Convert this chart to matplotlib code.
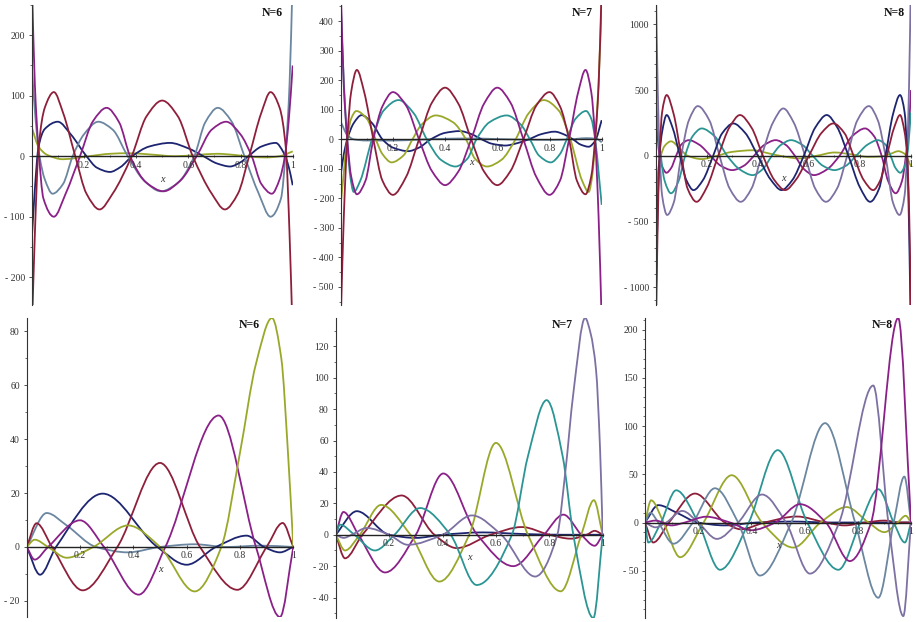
import numpy as np
import matplotlib
matplotlib.use("Agg")
import matplotlib.pyplot as plt
from matplotlib.path import Path
from matplotlib.patches import PathPatch
from matplotlib.ticker import MultipleLocator, FixedLocator, FuncFormatter

plt.rcParams['font.family'] = ['Liberation Serif', 'DejaVu Serif']

# ---------------- colours (Maple default palette, as seen) ----------------
MAROON = "#8e1f3b"
PURPLE = "#8a2088"
NAVY = "#1d2570"
OLIVE = "#9aa82a"
TEAL = "#2b9594"
SLATE = "#6b86a0"
LAVENDER = "#7d70a2"

# ---------------- curve knots: (x, y) ----------------
# top row, N=6
top6_red = [(0, -300), (0.012, -130), (0.026, 12), (0.05, 80), (0.085, 106), (0.12, 72),
            (0.167, 0), (0.21, -62), (0.26, -88), (0.31, -62), (0.383, 0), (0.44, 66),
            (0.5, 92), (0.56, 66), (0.617, 0), (0.69, -62), (0.74, -88), (0.79, -62),
            (0.833, 0), (0.88, 72), (0.915, 106), (0.95, 80), (0.974, 12), (0.988, -130), (1, -300)]
top6_purple = [(0, 300), (0.012, 120), (0.026, 12), (0.045, -70), (0.085, -100), (0.13, -62),
               (0.185, 0), (0.235, 58), (0.287, 80), (0.335, 56), (0.377, 0), (0.44, -44),
               (0.505, -58), (0.57, -40), (0.632, 0), (0.69, 44), (0.745, 57), (0.8, 36),
               (0.843, 0), (0.88, -46), (0.92, -62), (0.95, -38), (0.97, 0), (0.985, 60), (1, 150)]
top6_slate = [(0, 150), (0.015, 60), (0.03, 0), (0.05, -38), (0.08, -62), (0.12, -46),
              (0.157, 0), (0.2, 36), (0.255, 57), (0.31, 44), (0.368, 0), (0.43, -40),
              (0.495, -58), (0.56, -44), (0.623, 0), (0.665, 56), (0.713, 80), (0.765, 58),
              (0.815, 0), (0.87, -62), (0.915, -100), (0.955, -70), (0.974, 12), (0.988, 120), (1, 300)]
top6_navy = [(0, -140), (0.012, -55), (0.026, 15), (0.05, 45), (0.1, 57), (0.15, 36), (0.21, 0),
             (0.25, -19), (0.3, -26), (0.34, -18), (0.385, 0), (0.45, 16), (0.53, 22), (0.6, 13),
             (0.658, 0), (0.71, -12), (0.76, -17), (0.8, -10), (0.83, 0), (0.88, 16), (0.935, 22),
             (0.965, 6), (0.985, -18), (1, -48)]
top6_olive = [(0, 48), (0.026, 16), (0.06, 2), (0.12, -5), (0.17, -3), (0.22, 0), (0.3, 4),
              (0.37, 5), (0.45, 3), (0.55, 0), (0.63, 2), (0.71, 4), (0.78, 2), (0.84, -1),
              (0.9, -2), (0.95, 0), (1, 8)]

# top row, N=7
top7_red = [(0, -620), (0.012, -260), (0.025, 0), (0.04, 160), (0.062, 235), (0.09, 160),
            (0.125, 0), (0.16, -140), (0.2, -188), (0.25, -128), (0.3, 0), (0.35, 125),
            (0.4, 175), (0.45, 122), (0.5, 0), (0.55, -110), (0.6, -155), (0.65, -108), (0.7, 0),
            (0.75, 115), (0.8, 160), (0.84, 112), (0.875, 0), (0.905, -140), (0.938, -186),
            (0.96, -125), (0.975, 0), (0.988, 180), (1, 520)]
top7_purple = [(0, 520), (0.012, 180), (0.025, 0), (0.04, -125), (0.062, -186), (0.095, -140),
               (0.125, 0), (0.16, 112), (0.2, 160), (0.25, 115), (0.3, 0), (0.35, -108),
               (0.4, -155), (0.45, -110), (0.5, 0), (0.55, 122), (0.6, 175), (0.65, 125), (0.7, 0),
               (0.75, -128), (0.8, -188), (0.84, -140), (0.875, 0), (0.91, 160), (0.938, 235),
               (0.96, 160), (0.975, 0), (0.988, -260), (1, -620)]
top7_teal = [(0, 470), (0.012, 190), (0.025, 0), (0.035, -115), (0.05, -178), (0.075, -140),
             (0.12, 0), (0.165, 98), (0.222, 133), (0.28, 88), (0.33, 0), (0.385, -70),
             (0.44, -92), (0.485, -66), (0.52, 0), (0.57, 58), (0.636, 81), (0.69, 50),
             (0.725, 0), (0.76, -55), (0.805, -78), (0.84, -50), (0.866, 0), (0.9, 70),
             (0.94, 96), (0.96, 70), (0.975, 0), (0.99, -130), (1, -222)]
top7_olive = [(0, -222), (0.01, -130), (0.025, 0), (0.04, 70), (0.06, 96), (0.1, 70), (0.134, 0),
              (0.16, -50), (0.195, -78), (0.24, -55), (0.275, 0), (0.31, 50), (0.364, 81),
              (0.43, 58), (0.48, 0), (0.515, -66), (0.56, -92), (0.615, -70), (0.67, 0),
              (0.72, 88), (0.778, 133), (0.835, 98), (0.88, 0), (0.925, -140), (0.95, -178),
              (0.965, -115), (0.975, 0), (0.988, 190), (1, 470)]
top7_navy = [(0, -120), (0.012, -50), (0.025, 0), (0.05, 55), (0.08, 82), (0.12, 55), (0.16, 0),
             (0.2, -28), (0.259, -40), (0.3, -28), (0.345, 0), (0.4, 22), (0.457, 28), (0.5, 18),
             (0.54, 0), (0.58, -15), (0.63, -21), (0.68, -12), (0.72, 0), (0.77, 18), (0.82, 26),
             (0.86, 15), (0.89, 0), (0.92, -18), (0.95, -25), (0.975, -5), (1, 65)]
top7_slate = [(0, 60), (0.025, 15), (0.05, 0), (0.1, -4), (0.2, -4), (0.3, -1), (0.4, 2),
              (0.5, 3), (0.6, 1), (0.7, -1), (0.8, -2), (0.88, 0), (0.94, 4), (0.98, 2), (1, -10)]

# top row, N=8
top8_lav = [(0, 1400), (0.008, 500), (0.016, 0), (0.025, -300), (0.045, -450), (0.07, -360),
            (0.1, 0), (0.13, 270), (0.165, 378), (0.21, 270), (0.25, 0), (0.29, -250),
            (0.333, -350), (0.375, -250), (0.415, 0), (0.46, 255), (0.5, 360), (0.54, 255),
            (0.585, 0), (0.625, -250), (0.667, -350), (0.71, -250), (0.75, 0), (0.79, 270),
            (0.835, 378), (0.87, 270), (0.9, 0), (0.93, -360), (0.955, -450), (0.975, -300),
            (0.984, 0), (0.992, 500), (1, 1400)]
top8_red = [(0, -1500), (0.007, -600), (0.015, 0), (0.025, 330), (0.043, 462), (0.07, 320),
            (0.1, 0), (0.125, -250), (0.16, -350), (0.2, -240), (0.245, 0), (0.29, 220),
            (0.33, 310), (0.375, 215), (0.42, 0), (0.465, -185), (0.507, -261), (0.55, -180),
            (0.6, 0), (0.65, 175), (0.696, 246), (0.74, 170), (0.775, 0), (0.815, -185),
            (0.852, -261), (0.88, -185), (0.905, 0), (0.935, 220), (0.957, 310), (0.975, 180),
            (0.985, 0), (0.993, -450), (1, -1200)]
top8_navy = [(0, -1200), (0.007, -450), (0.015, 0), (0.025, 180), (0.043, 310), (0.065, 220),
             (0.095, 0), (0.12, -185), (0.148, -261), (0.185, -185), (0.225, 0), (0.26, 170),
             (0.304, 246), (0.35, 175), (0.4, 0), (0.45, -180), (0.493, -261), (0.535, -185),
             (0.58, 0), (0.625, 215), (0.67, 310), (0.71, 220), (0.755, 0), (0.8, -240),
             (0.84, -350), (0.875, -250), (0.9, 0), (0.93, 320), (0.957, 462), (0.975, 330),
             (0.985, 0), (0.993, -600), (1, -1500)]
top8_teal = [(0, 500), (0.009, 200), (0.02, 0), (0.035, -190), (0.06, -285), (0.09, -190),
             (0.115, 0), (0.145, 150), (0.18, 208), (0.23, 150), (0.28, 0), (0.33, -105),
             (0.38, -147), (0.42, -100), (0.455, 0), (0.49, 82), (0.53, 119), (0.575, 82),
             (0.615, 0), (0.655, -76), (0.7, -109), (0.745, -76), (0.785, 0), (0.83, 85),
             (0.87, 119), (0.9, 85), (0.92, 0), (0.94, -95), (0.958, -129), (0.975, -80),
             (0.985, 0), (1, 330)]
top8_purple = [(0, 330), (0.015, 0), (0.025, -80), (0.042, -129), (0.06, -95), (0.08, 0),
               (0.1, 85), (0.13, 119), (0.17, 85), (0.215, 0), (0.255, -76), (0.3, -109),
               (0.345, -76), (0.385, 0), (0.425, 82), (0.47, 119), (0.51, 82), (0.545, 0),
               (0.58, -100), (0.62, -147), (0.67, -105), (0.72, 0), (0.77, 150), (0.82, 208),
               (0.855, 150), (0.885, 0), (0.91, -190), (0.94, -285), (0.965, -190), (0.98, 0),
               (0.991, 200), (1, 500)]
top8_olive = [(0, -300), (0.01, -100), (0.02, 0), (0.035, 75), (0.06, 110), (0.09, 65),
              (0.125, 0), (0.18, -25), (0.24, 0), (0.3, 30), (0.38, 42), (0.45, 15), (0.5, -5),
              (0.56, -20), (0.63, 0), (0.7, 25), (0.77, 10), (0.83, -8), (0.88, -5), (0.92, 15),
              (0.95, 35), (0.975, 15), (1, -80)]

# bottom row, N=6
bot6_olive = [(0, 0), (0.03, 2.7), (0.08, 0), (0.15, -4), (0.25, 0), (0.38, 8), (0.5, 0),
              (0.63, -16.5), (0.73, 0), (0.8, 35), (0.86, 68), (0.92, 85), (0.955, 70),
              (0.98, 35), (1, 0)]
bot6_purple = [(0, 0), (0.03, -4.7), (0.08, 0), (0.2, 9.9), (0.29, 0), (0.42, -17.7), (0.52, 0),
               (0.72, 48.8), (0.86, 0), (0.95, -26), (1, 0)]
bot6_maroon = [(0, 0), (0.037, 8.8), (0.095, 0), (0.21, -16.1), (0.34, 0), (0.5, 31.2),
               (0.65, 0), (0.79, -15.9), (0.9, 0), (0.96, 8.9), (1, 0)]
bot6_navy = [(0, 0), (0.05, -10.3), (0.11, 0), (0.285, 19.8), (0.49, 0), (0.6, -6.6),
             (0.71, 0), (0.825, 4.2), (0.89, 0), (0.95, -2), (1, 0)]
bot6_slate = [(0, 0), (0.075, 12.6), (0.15, 8), (0.26, 0), (0.38, -2), (0.5, 0), (0.63, 1),
              (0.75, 0), (0.88, 0.5), (1, 0)]

# bottom row, N=7
bot7_lav = [(0, 0), (0.03, -2), (0.06, 0), (0.116, 4.3), (0.2, 0), (0.27, -6.4), (0.4, 0),
            (0.51, 12.3), (0.62, 0), (0.747, -26.6), (0.83, 0), (0.86, 40), (0.89, 90),
            (0.934, 138), (0.955, 128), (0.975, 105), (0.99, 55), (1, 0)]
bot7_teal = [(0, 0), (0.016, 6.4), (0.07, 0), (0.147, -10), (0.22, 0), (0.316, 17), (0.43, 0),
             (0.528, -32), (0.66, 0), (0.72, 50), (0.79, 85.7), (0.85, 50), (0.89, 0),
             (0.965, -53), (1, 0)]
bot7_olive = [(0, 0), (0.035, -10), (0.09, 0), (0.17, 19), (0.28, 0), (0.388, -29.8), (0.5, 0),
              (0.6, 58.5), (0.72, 0), (0.843, -36), (0.92, 0), (0.967, 22), (1, 0)]
bot7_purple = [(0, 0), (0.029, 14.5), (0.085, 0), (0.185, -24), (0.3, 0), (0.403, 39), (0.53, 0),
               (0.665, -20), (0.78, 0), (0.853, 12.8), (0.92, 0), (0.97, -7), (1, 0)]
bot7_maroon = [(0, 0), (0.035, -15), (0.1, 0), (0.247, 25), (0.37, 0), (0.453, -8.5), (0.58, 0),
               (0.697, 4.9), (0.8, 0), (0.88, -2.5), (0.94, 0), (0.97, 2.5), (1, 0)]
bot7_navy = [(0, 0), (0.079, 15), (0.2, 0), (0.3, -2), (0.4, 0), (0.55, 1.5), (0.7, 0.5),
             (0.85, 0), (1, 0)]

# bottom row, N=8
bot8_navy = [(0, 0), (0.05, 18), (0.12, 10), (0.2, 0), (0.3, -3), (0.42, 0), (0.55, 1),
             (0.7, 0), (1, 0)]
bot8_maroon = [(0, 0), (0.031, -20.7), (0.09, 0), (0.188, 30), (0.3, 0), (0.36, -7), (0.45, 0),
               (0.57, 6.2), (0.68, 0), (0.75, -3), (0.83, 0), (0.9, 2), (0.96, 0), (1, 0)]
bot8_olive = [(0, 0), (0.023, 23), (0.07, 0), (0.132, -36), (0.22, 0), (0.326, 49), (0.44, 0),
              (0.558, -26), (0.66, 0), (0.758, 16), (0.84, 0), (0.9, -10), (0.95, 0),
              (0.98, 7), (1, 0)]
bot8_teal = [(0, 0), (0.0125, -20.7), (0.06, 0), (0.117, 33.4), (0.2, 0), (0.282, -49),
             (0.39, 0), (0.499, 75), (0.61, 0), (0.727, -49), (0.81, 0), (0.877, 34.5),
             (0.935, 0), (0.977, -20.7), (1, 0)]
bot8_slate = [(0, 0), (0.02, 10), (0.05, 0), (0.107, -22), (0.18, 0), (0.263, 35.5), (0.35, 0),
              (0.432, -55), (0.55, 0), (0.677, 103), (0.79, 0), (0.877, -78), (0.935, 0),
              (0.975, 47.6), (1, 0)]
bot8_lav = [(0, 0), (0.04, -5), (0.08, 0), (0.14, 12), (0.2, 0), (0.27, -17), (0.35, 0),
            (0.44, 29), (0.53, 0), (0.62, -53), (0.73, 0), (0.858, 142), (0.915, 0),
            (0.971, -97), (1, 0)]
bot8_magenta = [(0, 0), (0.04, 2), (0.1, -3), (0.15, 0), (0.23, 6), (0.32, 0), (0.4, -8),
                (0.49, 0), (0.583, 19), (0.68, 0), (0.77, -40), (0.85, 0), (0.952, 212), (1, 0)]

# panel labels, y-ranges and y ticks
labels = ["N=6", "N=7", "N=8", "N=6", "N=7", "N=8"]
ylims = [(-246, 250), (-561, 455), (-1135, 1147), (-26, 85), (-53, 138), (-99, 212)]
ymajor = [100, 100, 500, 20, 20, 50]
yminor = [50, 50, 100, 10, 10, 10]

# panel boxes in pixels: left, right, top, bottom
boxes = [(31.7, 292.7, 5, 305), (340.7, 601.7, 5, 305), (655.7, 911, 5, 305),
         (26.7, 293.3, 318, 617), (335.7, 602.7, 318, 618), (645, 911, 318, 618)]
label_px = [(283, 13), (593, 13), (905, 13), (260, 325), (573, 325), (893, 325)]

curves = [
    [(top6_olive, OLIVE), (top6_navy, NAVY), (top6_slate, SLATE), (top6_purple, PURPLE),
     (top6_red, MAROON)],
    [(top7_slate, SLATE), (top7_navy, NAVY), (top7_olive, OLIVE), (top7_teal, TEAL),
     (top7_purple, PURPLE), (top7_red, MAROON)],
    [(top8_olive, OLIVE), (top8_purple, PURPLE), (top8_teal, TEAL), (top8_lav, LAVENDER),
     (top8_navy, NAVY), (top8_red, MAROON)],
    [(bot6_slate, SLATE), (bot6_navy, NAVY), (bot6_maroon, MAROON), (bot6_purple, PURPLE),
     (bot6_olive, OLIVE)],
    [(bot7_navy, NAVY), (bot7_maroon, MAROON), (bot7_purple, PURPLE), (bot7_olive, OLIVE),
     (bot7_teal, TEAL), (bot7_lav, LAVENDER)],
    [(bot8_navy, NAVY), (bot8_maroon, MAROON), (bot8_olive, OLIVE), (bot8_teal, TEAL),
     (bot8_slate, SLATE), (bot8_lav, LAVENDER), (bot8_magenta, PURPLE)],
]


def smooth_path(pts):
    """Bezier path through the read knots (monotone Hermite tangents)."""
    x = np.array([p[0] for p in pts], float)
    y = np.array([p[1] for p in pts], float)
    h = np.diff(x)
    d = np.diff(y) / h
    m = np.zeros_like(y)
    m[0], m[-1] = d[0], d[-1]
    for i in range(1, len(x) - 1):
        if d[i - 1] * d[i] > 0:
            w1 = 2 * h[i] + h[i - 1]
            w2 = h[i] + 2 * h[i - 1]
            m[i] = (w1 + w2) / (w1 / d[i - 1] + w2 / d[i])
    verts = [(x[0], y[0])]
    codes = [Path.MOVETO]
    for i in range(len(x) - 1):
        verts += [(x[i] + h[i] / 3, y[i] + m[i] * h[i] / 3),
                  (x[i + 1] - h[i] / 3, y[i + 1] - m[i + 1] * h[i] / 3),
                  (x[i + 1], y[i + 1])]
        codes += [Path.CURVE4] * 3
    return Path(verts, codes)


def ylab(v, pos):
    v = int(round(v))
    return f"- {abs(v)}" if v < 0 else f"{v}"


W, H = 916, 622
fig = plt.figure(figsize=(W / 100, H / 100), dpi=100)

for k in range(6):
    l, r, t, b = boxes[k]
    ax = fig.add_axes([l / W, 1 - b / H, (r - l) / W, (b - t) / H])
    for pts, col in curves[k]:
        ax.add_patch(PathPatch(smooth_path(pts), fill=False, edgecolor=col, lw=1.3))
    ax.set_xlim(0, 1)
    ax.set_ylim(*ylims[k])

    for s in ("top", "right"):
        ax.spines[s].set_visible(False)
    ax.spines["bottom"].set_position(("data", 0))
    ax.spines["bottom"].set_color("#222222")
    ax.spines["bottom"].set_linewidth(1.0)
    ax.spines["left"].set_color("#333333")
    ax.spines["left"].set_linewidth(0.8)

    ax.xaxis.set_major_locator(FixedLocator([0.2, 0.4, 0.6, 0.8, 1.0]))
    ax.xaxis.set_major_formatter(FuncFormatter(lambda v, p: "1" if v > 0.99 else f"{v:.1f}"))
    ax.xaxis.set_minor_locator(MultipleLocator(0.1))
    ax.yaxis.set_major_locator(MultipleLocator(ymajor[k]))
    ax.yaxis.set_minor_locator(MultipleLocator(yminor[k]))
    ax.yaxis.set_major_formatter(FuncFormatter(ylab))
    ax.tick_params(axis="x", which="major", direction="inout", length=3.5, width=0.6,
                   labelsize=7, pad=1.5, colors="#333333")
    ax.tick_params(axis="x", which="minor", direction="inout", length=2, width=0.5,
                   colors="#333333")
    ax.tick_params(axis="y", which="major", direction="out", length=2.5, width=0.6,
                   labelsize=7, pad=2.5, colors="#333333")
    ax.tick_params(axis="y", which="minor", direction="out", length=1.5, width=0.5,
                   colors="#333333")
    ax.set_facecolor("none")

    ax.annotate("x", xy=(0.5, 0), xytext=(0, -23), textcoords="offset pixels",
                ha="center", va="center", fontsize=7.5, style="italic", color="#333333")
    lx, ly = label_px[k]
    fig.text(lx / W, 1 - ly / H, labels[k], ha="right", va="center",
             fontsize=8.5, fontweight="bold", color="#111111")

fig.savefig("out.png", dpi=100)
